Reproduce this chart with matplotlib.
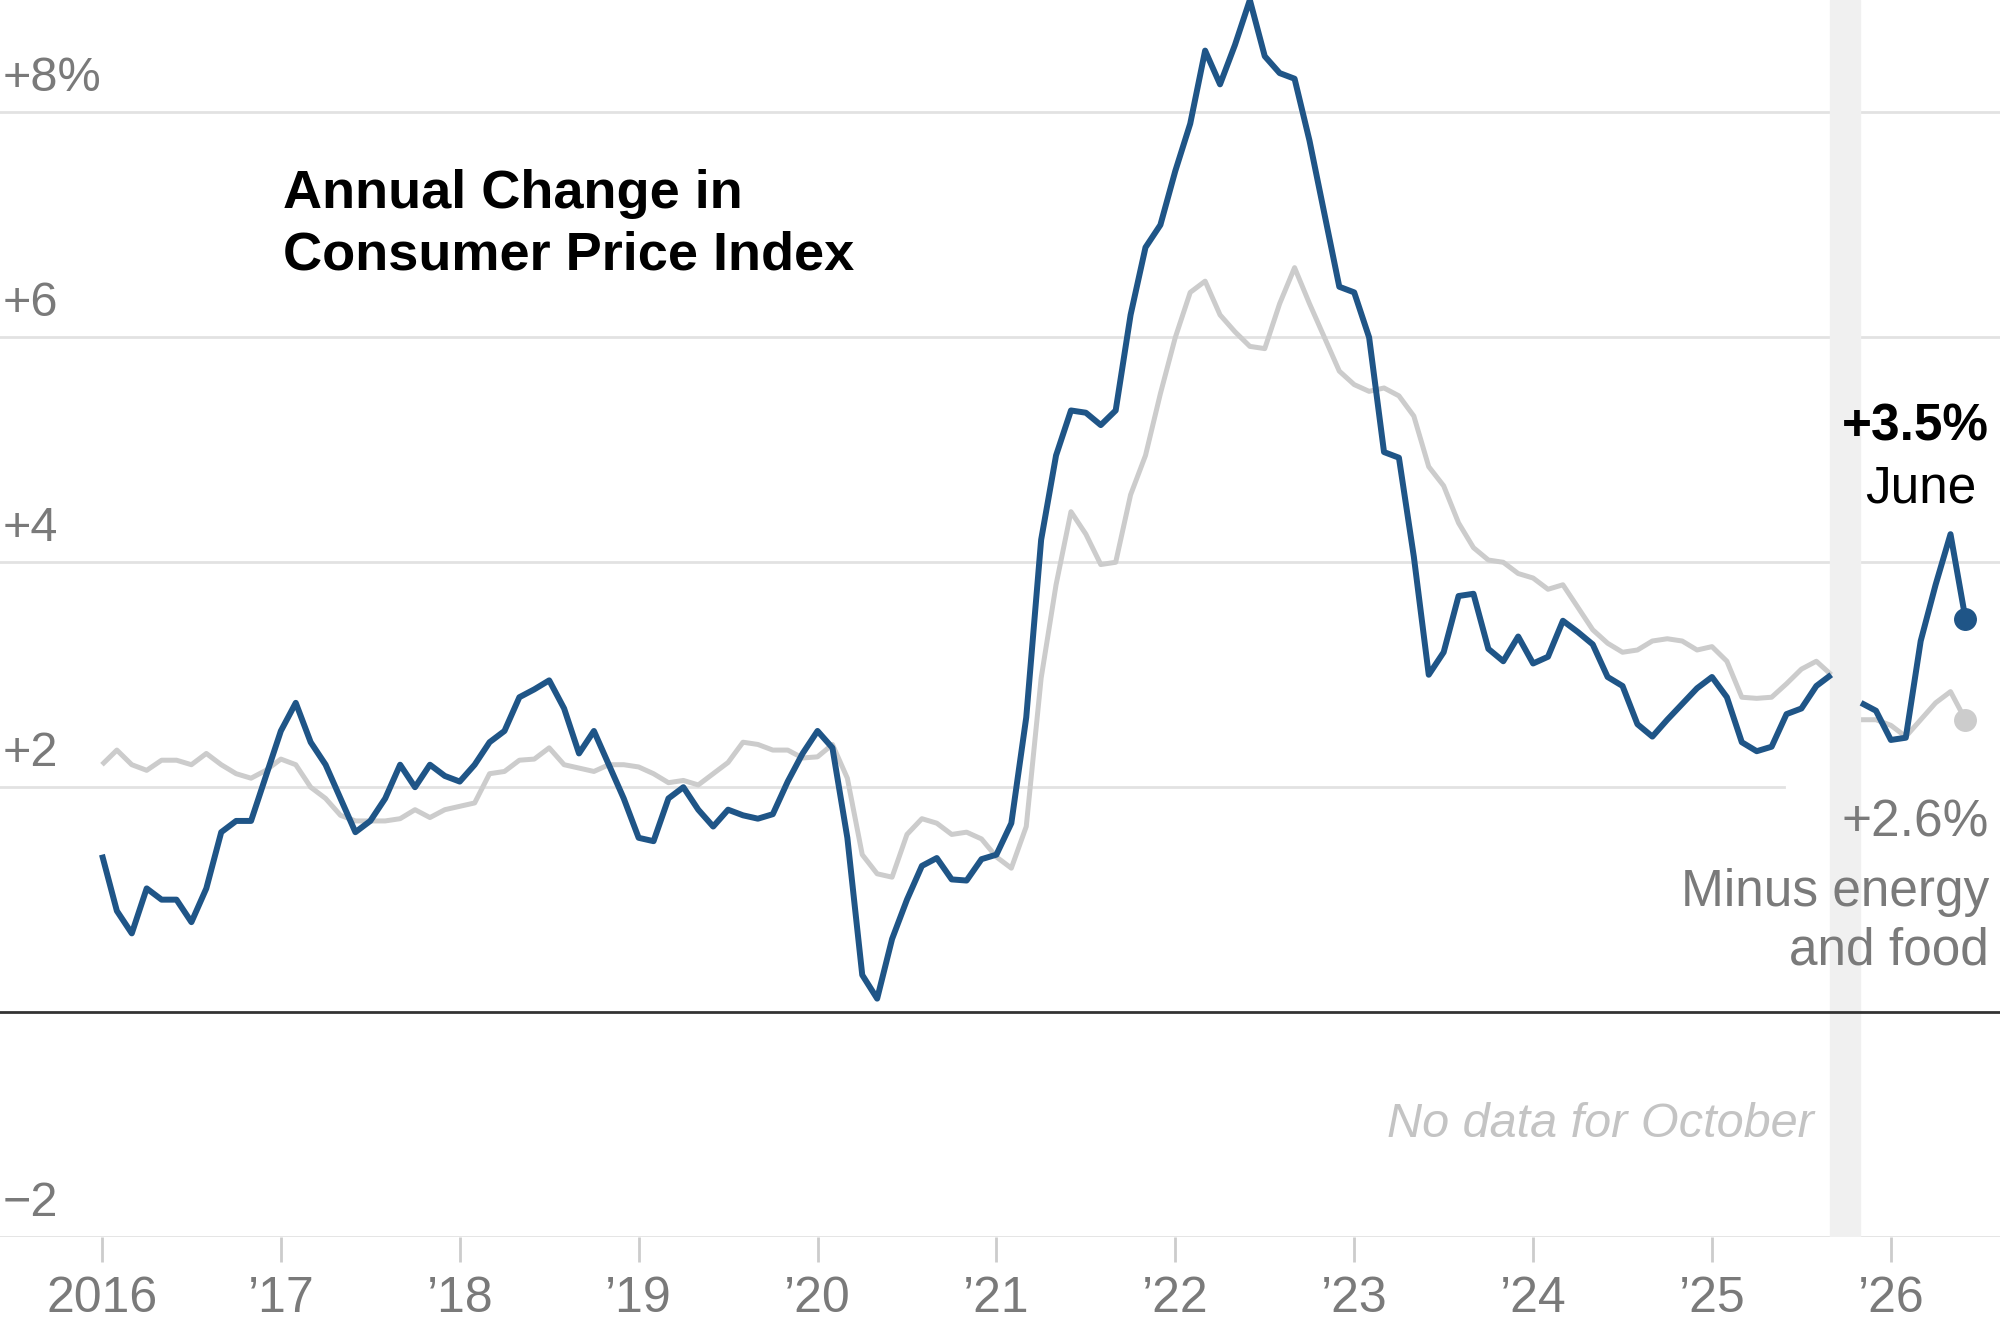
import numpy as np
import matplotlib
matplotlib.use("Agg")
import matplotlib.pyplot as plt

plt.rcParams['font.family'] = ['Liberation Sans', 'DejaVu Sans']

# Monthly values Jan 2016 .. Jun 2026 (October 2025 missing)
headline = [1.4,0.9,0.7,1.1,1.0,1.0,0.8,1.1,1.6,1.7,1.7,2.1,
            2.5,2.75,2.4,2.2,1.9,1.6,1.7,1.9,2.2,2.0,2.2,2.1,
            2.05,2.2,2.4,2.5,2.8,2.87,2.95,2.7,2.3,2.5,2.2,1.9,
            1.55,1.52,1.9,2.0,1.8,1.65,1.8,1.75,1.72,1.76,2.05,2.3,
            2.5,2.35,1.55,0.33,0.12,0.65,1.0,1.3,1.37,1.18,1.17,1.36,
            1.4,1.68,2.62,4.2,4.95,5.35,5.33,5.22,5.35,6.2,6.8,7.0,
            7.48,7.9,8.55,8.25,8.6,9.0,8.5,8.35,8.3,7.75,7.1,6.45,
            6.4,6.0,4.98,4.93,4.05,3.0,3.2,3.7,3.72,3.23,3.12,3.34,
            3.1,3.16,3.48,3.38,3.27,2.98,2.9,2.56,2.45,2.6,2.74,2.88,
            2.98,2.8,2.4,2.32,2.36,2.65,2.7,2.9,3.0,np.nan,2.75,2.68,
            2.42,2.44,3.3,3.8,4.25,3.5]
core = [2.2,2.33,2.2,2.15,2.24,2.24,2.2,2.3,2.2,2.12,2.08,2.15,
        2.25,2.2,2.0,1.9,1.75,1.7,1.7,1.7,1.72,1.8,1.73,1.8,
        1.83,1.86,2.12,2.14,2.24,2.25,2.35,2.2,2.17,2.14,2.2,2.2,
        2.18,2.12,2.04,2.06,2.02,2.12,2.22,2.4,2.38,2.33,2.33,2.26,
        2.27,2.38,2.08,1.4,1.23,1.2,1.58,1.72,1.68,1.58,1.6,1.54,
        1.38,1.28,1.65,2.97,3.8,4.45,4.25,3.98,4.0,4.6,4.95,5.5,
        6.0,6.4,6.5,6.2,6.05,5.92,5.9,6.3,6.62,6.3,6.0,5.7,
        5.58,5.52,5.55,5.48,5.3,4.85,4.68,4.35,4.13,4.02,4.0,3.9,
        3.86,3.76,3.8,3.6,3.4,3.28,3.2,3.22,3.3,3.32,3.3,3.22,
        3.25,3.12,2.8,2.79,2.8,2.92,3.05,3.12,3.0,np.nan,2.6,2.6,
        2.55,2.45,2.6,2.75,2.85,2.6]
year_ticks = [2016,2017,2018,2019,2020,2021,2022,2023,2024,2025,2026]
year_labels = ['2016','’17','’18','’19','’20','’21','’22','’23','’24','’25','’26']
y_ticks = [-2,0,2,4,6,8]
y_labels = ['−2','','+2','+4','+6','+8%']

t = 2016 + np.arange(len(headline)) / 12
BLUE = '#1f5587'
GREY = '#cccccc'
TXT = '#7a7a7a'

fig = plt.figure(figsize=(20, 13.33), dpi=100)
ax = fig.add_axes([0, 0.072, 1, 0.928])
ax.set_xlim(2015.43, 2026.61)
ax.set_ylim(-2, 9.0)
for s in ax.spines.values():
    s.set_visible(False)

for yv in y_ticks:
    if yv == 0:
        ax.axhline(0, color='#333333', lw=2, zorder=1)
    elif yv == 2:
        ax.plot([2015.43, 2025.4], [2, 2], color='#e2e2e2', lw=2, zorder=0)
    else:
        ax.axhline(yv, color='#e2e2e2', lw=2, zorder=0)
for yv, lab in zip(y_ticks, y_labels):
    if lab:
        ax.text(2015.445, yv + 0.1, lab, fontsize=35, color=TXT, va='bottom', ha='left')

ax.axvspan(2025 + 7.9/12, 2025 + 9.9/12, color='#f0f0f0', zorder=0)

ax.plot(t, core, color=GREY, lw=3.6, zorder=2, solid_capstyle='butt')
ax.plot(t, headline, color=BLUE, lw=4.3, zorder=3, solid_capstyle='butt')
ax.scatter([t[-1]], [core[-1]], s=240, color=GREY, zorder=4)
ax.scatter([t[-1]], [headline[-1]], s=240, color=BLUE, zorder=5)

ax.set_xticks(year_ticks)
ax.set_xticklabels(year_labels, fontsize=36, color=TXT)
ax.tick_params(axis='x', length=18, width=2, color='#cccccc', pad=10)
ax.set_yticks([])

ax.text(2017.01, 7.0, 'Annual Change in\nConsumer Price Index', fontsize=39,
        fontweight='bold', color='black', va='center', ha='left', linespacing=1.3)
ax.text(2026.55, 5.2, '+3.5%', fontsize=37, fontweight='bold', color='black', ha='right', va='center')
ax.text(2026.48, 4.65, 'June', fontsize=37, color='black', ha='right', va='center')
ax.text(2026.55, 1.68, '+2.6%', fontsize=37, color=TXT, ha='right', va='center')
ax.text(2026.55, 0.8, 'Minus energy\nand food', fontsize=37, color=TXT, ha='right', va='center',
        linespacing=1.25, multialignment='right')
ax.text(2025.57, -1.0, 'No data for October', fontsize=35, color='#c4c4c4', style='italic',
        ha='right', va='center')

fig.savefig('out.png', dpi=100)
